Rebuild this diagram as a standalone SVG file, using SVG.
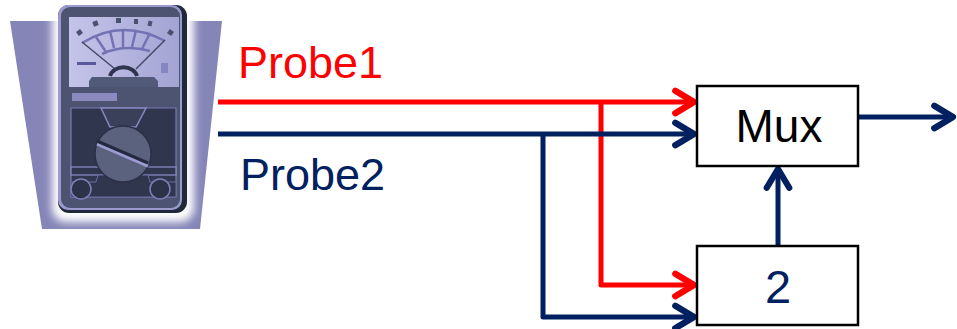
<svg xmlns="http://www.w3.org/2000/svg" width="957" height="329" viewBox="0 0 957 329">
  <style>
    .wire { fill: none; stroke-width: 5; stroke-linecap: butt; stroke-linejoin: round; }
    .red { stroke: #ff0000; }
    .navy { stroke: #002060; }
    .box { fill: #ffffff; stroke: #000000; stroke-width: 2.5; }
    .lbl { font-family: "Liberation Sans", Arial, sans-serif; }
  </style>
  <defs>
    <marker id="arrRed" markerUnits="userSpaceOnUse" markerWidth="30" markerHeight="30" viewBox="-20 -12 24 24" refX="0" refY="0" orient="auto">
      <path d="M -15 -9 L 0 0 L -15 9" fill="none" stroke="#ff0000" stroke-width="5" stroke-linecap="round" stroke-linejoin="round"/>
    </marker>
    <marker id="arrNavy" markerUnits="userSpaceOnUse" markerWidth="30" markerHeight="30" viewBox="-20 -12 24 24" refX="0" refY="0" orient="auto">
      <path d="M -15 -9 L 0 0 L -15 9" fill="none" stroke="#002060" stroke-width="5" stroke-linecap="round" stroke-linejoin="round"/>
    </marker>
    <linearGradient id="faceGrad" x1="0" y1="0" x2="1" y2="0">
      <stop offset="0" stop-color="#c4c4ea"/>
      <stop offset="1" stop-color="#a4a4d4"/>
    </linearGradient>
    <filter id="halo" x="-30%" y="-30%" width="160%" height="160%">
      <feGaussianBlur stdDeviation="4"/>
    </filter>
  </defs>

  <!-- multimeter illustration -->
  <g id="meter">
    <polygon points="10,21 222,21 200,229 42,229" fill="#8585b8"/>
    <rect x="52" y="2" width="142" height="220" rx="14" fill="#ffffff" filter="url(#halo)"/>
    <!-- body -->
    <rect x="58" y="5" width="129" height="208" rx="11" fill="#22283c"/>
    <rect x="58" y="5" width="124" height="205" rx="10" fill="#9a9ace"/>
    <rect x="61" y="7" width="119" height="201" rx="9" fill="#4d5471"/>
    <!-- face -->
    <rect x="69" y="17" width="110" height="70" fill="url(#faceGrad)"/>
    <g fill="none" stroke="#7373b4" stroke-width="2.5">
      <path d="M 82 43 Q 122 18 165 41"/>
      <path d="M 102 54 Q 124 44 150 51"/>
      <path d="M 96 37 L 106 52 M 110 31 L 114 48 M 123 29 L 123 47 M 136 30 L 132 47 M 150 33 L 142 49"/>
    </g>
    <g fill="#4a5070">
      <rect x="77" y="30" width="5" height="5" transform="rotate(-35 79.5 32.5)"/>
      <rect x="93" y="21" width="5" height="5" transform="rotate(-20 95.5 23.5)"/>
      <rect x="116" y="18" width="5" height="5"/>
      <rect x="134" y="19" width="4" height="5"/>
      <rect x="148" y="21" width="4" height="5" transform="rotate(15 150 23.5)"/>
      <rect x="168" y="30" width="5" height="5" transform="rotate(35 170.5 32.5)"/>
    </g>
    <path d="M 82 42 L 115 69 M 165 40 L 136 69" stroke="#454a66" stroke-width="1.5" fill="none"/>
    <path d="M 110 76 A 14 12 0 0 1 137 76" fill="none" stroke="#2e3450" stroke-width="4"/>
    <path d="M 92 77 L 154 77 L 158 81 L 158 87 L 89 87 L 89 81 Z" fill="#525a7a"/>
    <rect x="77" y="62" width="19" height="3" fill="#5a5a9a"/>
    <rect x="161" y="63" width="7" height="10" fill="#8686c0"/>
    <!-- label plate -->
    <rect x="72" y="93" width="45" height="8" fill="#8a8abf"/>
    <!-- dial panel -->
    <path d="M 71 108 L 176 108 L 176 197 L 71 197 Z" fill="#30364e" stroke="#7a7ab0" stroke-width="1.2"/>
    <path d="M 101 108 L 146 108 L 136 127 L 110 127 Z" fill="#3a405a" stroke="#8888c0" stroke-width="1.5"/>
    <rect x="71" y="167" width="105" height="8" fill="#30364e" stroke="#8888c0" stroke-width="1.3"/>
    <path d="M 98 175 L 148 175 L 150 182 L 176 182 L 176 197 L 71 197 L 71 182 L 96 182 Z" fill="#30364e" stroke="#6a6aa0" stroke-width="1"/>
    <circle cx="81" cy="189" r="10" fill="#2c3248" stroke="#8080b8" stroke-width="1.5"/>
    <circle cx="160" cy="189" r="10" fill="#2c3248" stroke="#8080b8" stroke-width="1.5"/>
    <!-- selector knob -->
    <circle cx="123" cy="154" r="28" fill="#5a627e" stroke="#2a3048" stroke-width="1.5"/>
    <path d="M 97 144 L 148 166" stroke="#9c9cd0" stroke-width="3"/>
    <path d="M 97 141 L 148 163" stroke="#232a40" stroke-width="3"/>
  </g>

  <!-- connectors -->
  <g id="connectors">
    <path class="wire red" d="M 218 102 L 694 102" marker-end="url(#arrRed)"/>
    <path class="wire red" d="M 601 102 L 601 285 L 694 285" marker-end="url(#arrRed)"/>
    <path class="wire navy" d="M 218 134 L 694 134" marker-end="url(#arrNavy)"/>
    <path class="wire navy" d="M 543 134 L 543 317 L 694 317" marker-end="url(#arrNavy)"/>
    <path class="wire navy" d="M 778 246 L 778 169" marker-end="url(#arrNavy)"/>
    <path class="wire navy" d="M 858 117 L 953 117" marker-end="url(#arrNavy)"/>
  </g>

  <!-- probe labels -->
  <g id="probe1">
    <text class="lbl" x="238" y="78" font-size="45" fill="#ff0000">Probe1</text>
  </g>
  <g id="probe2">
    <text class="lbl" x="240" y="190" font-size="45" fill="#002060">Probe2</text>
  </g>

  <g id="mux">
    <rect class="box" x="697" y="86" width="161" height="80"/>
    <text class="lbl" x="779" y="142" font-size="46" fill="#000000" text-anchor="middle">Mux</text>
  </g>

  <g id="div2">
    <rect class="box" x="697" y="246" width="161" height="79"/>
    <text class="lbl" x="778" y="303" font-size="47" fill="#002060" text-anchor="middle">2</text>
  </g>
</svg>
